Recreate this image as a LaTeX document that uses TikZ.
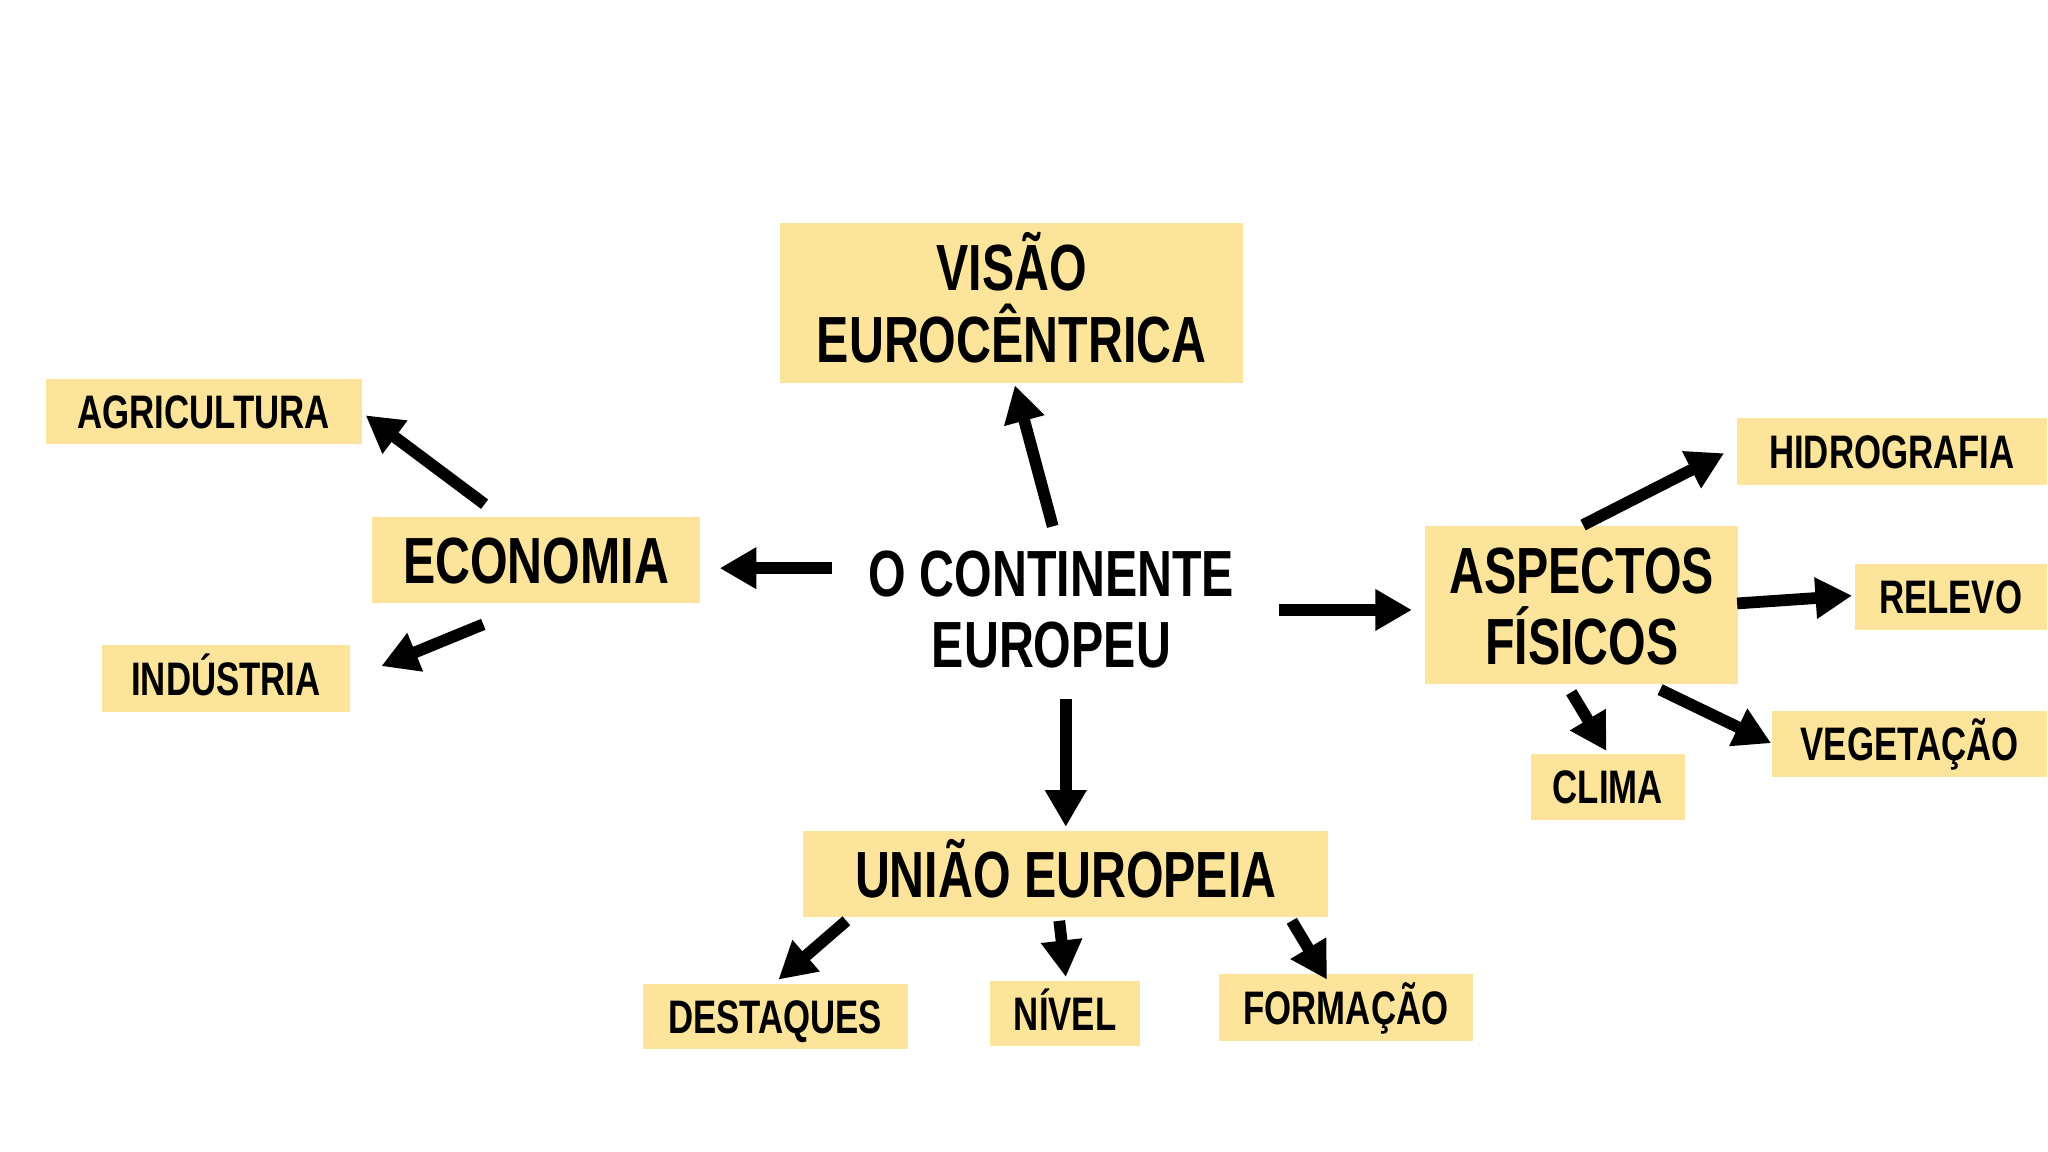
\documentclass[tikz,border=0pt]{standalone}
\usepackage{fontspec}
\newfontfamily\nb{Liberation Sans}[FakeStretch=0.74]
\usetikzlibrary{arrows.meta}
\definecolor{boxfill}{HTML}{FCE59B}
\tikzset{
  bigtxt/.style={font=\nb\bfseries\fontsize{50}{55}\selectfont, align=center, text height=35.8pt, text depth=0pt, inner sep=0pt},
  smalltxt/.style={font=\nb\bfseries\fontsize{36}{40}\selectfont, text height=25.8pt, text depth=0pt, inner sep=0pt},
  bigbox/.style={bigtxt, fill=boxfill},
  smallbox/.style={smalltxt, fill=boxfill},
  arr/.style={line width=9pt, -{Triangle[length=28pt,width=30pt]}, black},
}
\begin{document}
\begin{tikzpicture}[x=1pt,y=-1pt]
\useasboundingbox (0,0) rectangle (1568,882);
\fill[white] (0,0) rectangle (1568,882);

\node[bigbox, minimum width=355pt, minimum height=122pt, text height=90.8pt] (visao) at (774.5,232) {VISÃO\\EUROCÊNTRICA};
\node[bigtxt, text height=90.8pt] (cont) at (805,466) {O CONTINENTE\\EUROPEU};
\node[bigbox, minimum width=251pt, minimum height=66pt] (econ) at (410.5,429) {ECONOMIA};
\node[smallbox, minimum width=242pt, minimum height=50pt] (agri) at (156,315) {AGRICULTURA};
\node[smallbox, minimum width=190pt, minimum height=51pt] (ind) at (173,519.5) {INDÚSTRIA};
\node[bigbox, minimum width=240pt, minimum height=121pt, text height=89.8pt, font=\nb\bfseries\fontsize{50}{54}\selectfont] (asp) at (1211,463.5) {ASPECTOS\\FÍSICOS};
\node[smallbox, minimum width=237pt, minimum height=51pt] (hidro) at (1448.5,345.5) {HIDROGRAFIA};
\node[smallbox, minimum width=147pt, minimum height=50pt] (relevo) at (1493.5,457) {RELEVO};
\node[smallbox, minimum width=210pt, minimum height=51pt] (veg) at (1462,569.5) {VEGETAÇÃO};
\node[smallbox, minimum width=118pt, minimum height=51pt] (clima) at (1231,602.5) {CLIMA};
\node[bigbox, minimum width=402pt, minimum height=66pt] (uniao) at (816,669) {UNIÃO EUROPEIA};
\node[smallbox, minimum width=203pt, minimum height=50pt] (dest) at (593.5,778) {DESTAQUES};
\node[smallbox, minimum width=115pt, minimum height=50pt] (nivel) at (815.5,776) {NÍVEL};
\node[smallbox, minimum width=195pt, minimum height=51pt] (form) at (1030.5,771.5) {FORMAÇÃO};

\draw[arr] ([shift={(1,-63)}]cont.center) -- ([shift={(2.5,63)}]visao.center);
\draw[arr] ([shift={(-168,-31)}]cont.center) -- ([shift={(140.5,6)}]econ.center);
\draw[arr] ([shift={(-39.5,-43)}]econ.center) -- ([shift={(124,3)}]agri.center);
\draw[arr] ([shift={(-40.5,49)}]econ.center) -- ([shift={(119,-9.5)}]ind.center);
\draw[arr] ([shift={(174,1)}]cont.center) -- ([shift={(-130,3.5)}]asp.center);
\draw[arr] ([shift={(11,69)}]cont.center) -- ([shift={(0,-36)}]uniao.center);
\draw[arr] ([shift={(1,-61.5)}]asp.center) -- ([shift={(-128.5,1.5)}]hidro.center);
\draw[arr] ([shift={(119,-1.5)}]asp.center) -- ([shift={(-75.5,-1)}]relevo.center);
\draw[arr] ([shift={(-8,66.5)}]asp.center) -- ([shift={(-1,-27.5)}]clima.center);
\draw[arr] ([shift={(60,64.5)}]asp.center) -- ([shift={(-106,-0.5)}]veg.center);
\draw[arr] ([shift={(-168,36)}]uniao.center) -- ([shift={(2.5,-28)}]dest.center);
\draw[arr] ([shift={(-5,36)}]uniao.center) -- ([shift={(0.5,-28)}]nivel.center);
\draw[arr] ([shift={(173,36)}]uniao.center) -- ([shift={(-14.5,-21.5)}]form.center);
\end{tikzpicture}
\end{document}
